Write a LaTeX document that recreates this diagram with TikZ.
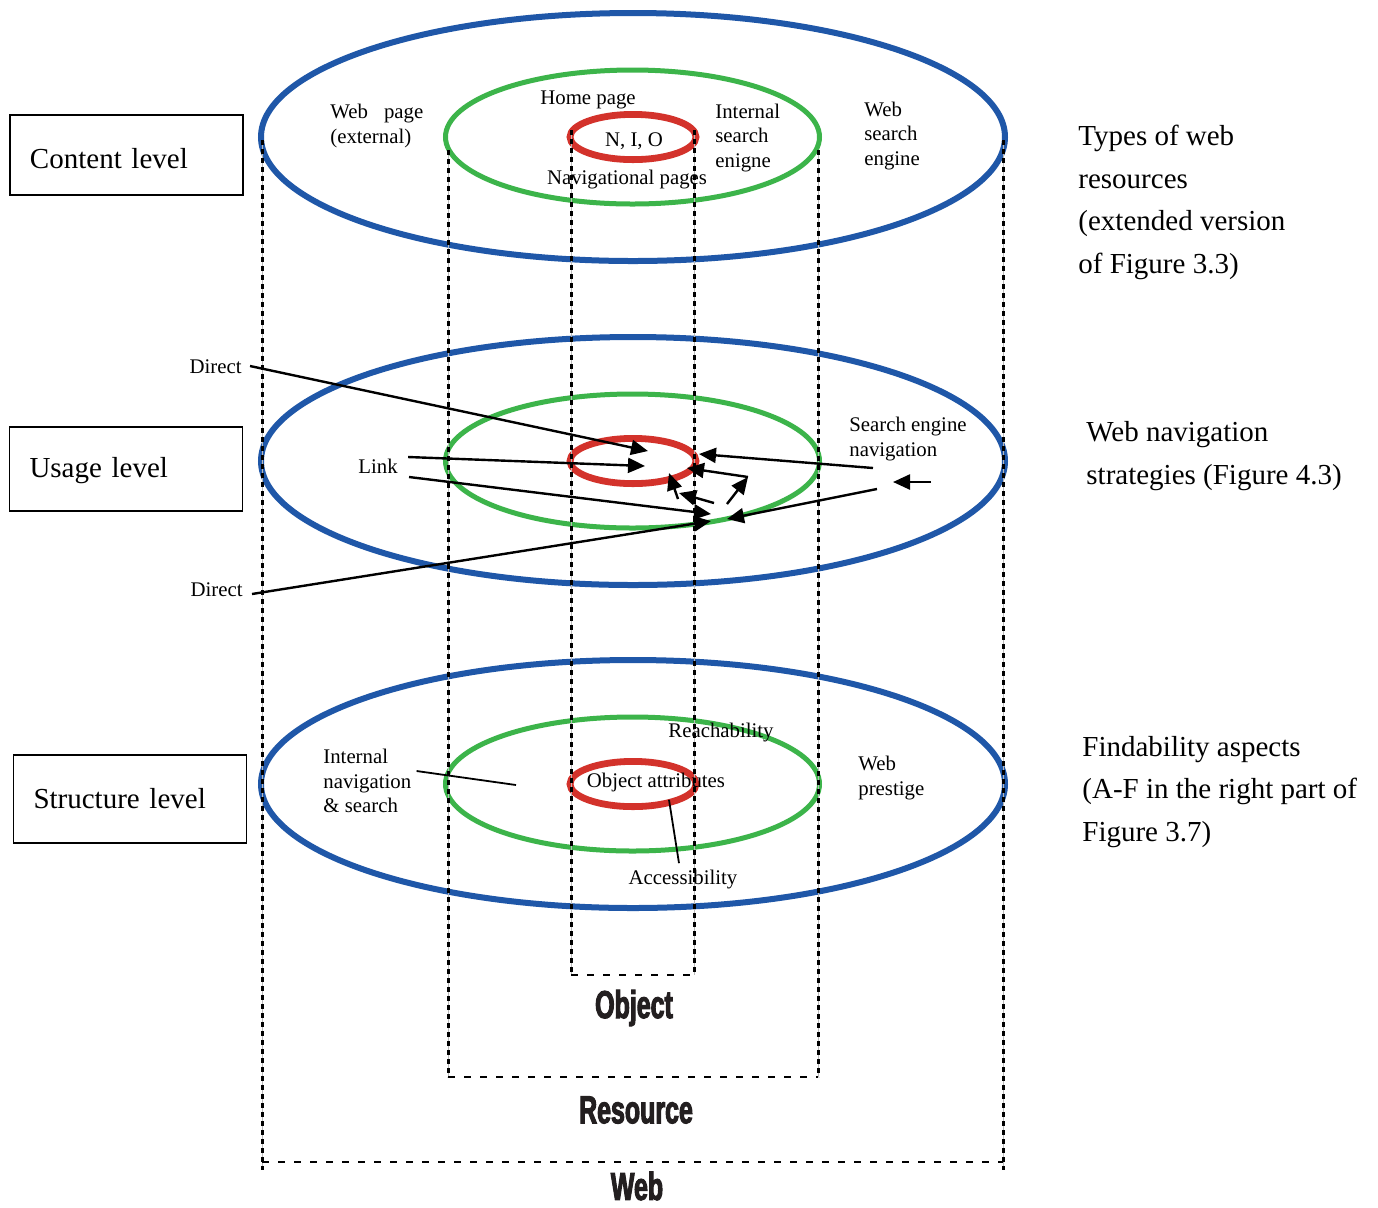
\documentclass[tikz,border=0pt]{standalone}
\usepackage{fontspec}
\setmainfont{Liberation Serif}
\newfontfamily\condfont[FakeStretch=0.64,FakeBold=2.6]{Liberation Sans}
\usetikzlibrary{arrows.meta,calc}
\definecolor{wblue}{HTML}{1F57A8}
\definecolor{wgreen}{HTML}{3CB44A}
\definecolor{wred}{HTML}{D3322B}
\definecolor{inkdark}{HTML}{231F20}
\tikzset{
  blueell/.style={draw=wblue, line width=3pt},
  greenell/.style={draw=wgreen, line width=2.5pt},
  redell/.style={draw=wred, line width=3.4pt},
  vguide/.style={draw=gray!55, line width=0.5pt,
     postaction={draw=black, line width=1.5pt, dash pattern=on 2.5pt off 2pt}},
  hguide/.style={draw=black, line width=1.3pt, dash pattern=on 3.5pt off 4.5pt},
  levelbox/.style={draw=black, line width=0.6pt, font=\fontsize{14.5}{17}\selectfont,
     text width=96.5pt, inner xsep=10pt, minimum height=40pt, align=left},
  sidetext/.style={font=\fontsize{14.5}{21.3}\selectfont, align=left, inner sep=0pt},
  lbl/.style={font=\fontsize{10.4}{12.2}\selectfont, align=left, inner sep=0pt},
  bigword/.style={font=\condfont\bfseries\fontsize{19.5}{22}\selectfont, text=inkdark, inner sep=0pt},
  arr/.style={line width=1.2pt, -{Triangle[length=8.5pt,width=7.5pt]}},
  plainline/.style={line width=0.9pt}
}
\begin{document}
\begin{tikzpicture}[x=0.5pt,y=-0.5pt]
\useasboundingbox (0,0) rectangle (1378,1207);
\fill[white] (0,0) rectangle (1378,1207);

% ---- ellipses ----
\foreach \cy in {137,461,784}{
  \draw[blueell] (633,\cy) ellipse [x radius=186pt, y radius=62pt];
  \draw[greenell] (632.5,\cy) ellipse [x radius=93.5pt, y radius=33.5pt];
  \draw[redell] (633,\cy) ellipse [x radius=31.5pt, y radius=11.3pt];
}

% ---- guide lines (Object / Resource / Web) ----
\draw[vguide] (571,130) -- (571,975);
\draw[vguide] (694,130) -- (694,975);
\draw[hguide] (571,975) -- (694,975);
\draw[vguide] (448,150) -- (448,1077);
\draw[vguide] (818,150) -- (818,1077);
\draw[hguide] (448,1077) -- (818,1077);
\draw[vguide] (262,140) -- (262,1170);
\draw[vguide] (1003,140) -- (1003,1170);
\draw[hguide] (262,1162) -- (1003,1162);

\node[bigword] (object) at (634,1008) {Object};
\node[bigword] (resource) at (636,1110) {Resource};
\node[bigword] (web) at (637,1186) {Web};

% ---- level boxes ----
\node[levelbox, text height=14pt] (content) at (126.5,155) {Content level};
\node[levelbox, minimum height=42pt, text height=12pt] (usage) at (126,469) {Usage level};
\node[levelbox, minimum height=44pt] (structure) at (130,799) {Structure level};

% ---- right side texts ----
\node[sidetext, anchor=west] (types) at (1078,202.5) {Types of web\\resources\\(extended version\\of Figure 3.3)};
\node[sidetext, anchor=west] (navstrat) at (1086,456) {Web navigation\\strategies (Figure 4.3)};
\node[sidetext, anchor=west] (findab) at (1082,792) {Findability aspects\\(A-F in the right part of\\Figure 3.7)};

% ---- content level labels ----
\node[lbl, anchor=west] (webpage) at (330,126) {Web\hspace{8pt}page\\(external)};
\node[lbl] (home) at (588,100) {Home page};
\node[lbl] (nio) at (634,141) {N, I, O};
\node[lbl, anchor=west] (intsearch) at (715,138) {Internal\\search\\enigne};
\node[lbl] (navpages) at (627,180) {Navigational pages};
\node[lbl, anchor=west] (websearch) at (864,136) {Web\\search\\engine};

% ---- usage level ----
\node[lbl, anchor=east] (direct1) at (242,367) {Direct};
\node[lbl, anchor=east] (direct2) at (243,590) {Direct};
\node[lbl] (link) at (378,466) {Link};
\node[lbl, anchor=west] (senav) at (849,439) {Search engine\\navigation};

\coordinate (t1) at (648,451);
\coordinate (t2) at (645,466);
\coordinate (t3) at (711,514);
\coordinate (t4) at (711,521);
\coordinate (t5) at (699,454);
\coordinate (t6) at (727,519);
\coordinate (s1) at (873,468);
\coordinate (s2) at (877,489);
\coordinate (bend) at (748,477);
\coordinate (b0) at (727,504);
\coordinate (t7) at (687,468);
\coordinate (c0) at (714,503);
\coordinate (t8) at (679,493);
\coordinate (d0) at (678,499);
\coordinate (t9) at (669,473);
\coordinate (e0) at (931,482);
\coordinate (t10) at (893,482);

\draw[arr] ($(direct1.east)+(8,-1)$) -- (t1);
\draw[arr] ($(link.east)+(10,-9)$) -- (t2);
\draw[arr] ($(link.east)+(11,11)$) -- (t3);
\draw[arr] ($(direct2.east)+(9,4)$) -- (t4);
\draw[arr] (s1) -- (t5);
\draw[arr] (s2) -- (t6);
\draw[arr] (b0) -- (bend);
\draw[arr] (bend) -- (t7);
\draw[arr] (c0) -- (t8);
\draw[arr] (d0) -- (t9);
\draw[arr] (e0) -- (t10);

% ---- structure level ----
\node[lbl, anchor=west] (intnav) at (323,781) {Internal\\navigation\\\& search};
\node[lbl] (reach) at (721,733) {Reachability};
\node[lbl] (objattr) at (656,782) {Object attributes};
\node[lbl, anchor=west] (prestige) at (858,778) {Web\\prestige};
\node[lbl] (access) at (683,880) {Accessibility};
\coordinate (n1) at (516,785);
\draw[plainline] ($(intnav.east)+(5,-10)$) -- (n1);
\draw[plainline] ($(objattr.south)+(13,8)$) -- ($(access.north)+(-4,-7)$);
\end{tikzpicture}
\end{document}
